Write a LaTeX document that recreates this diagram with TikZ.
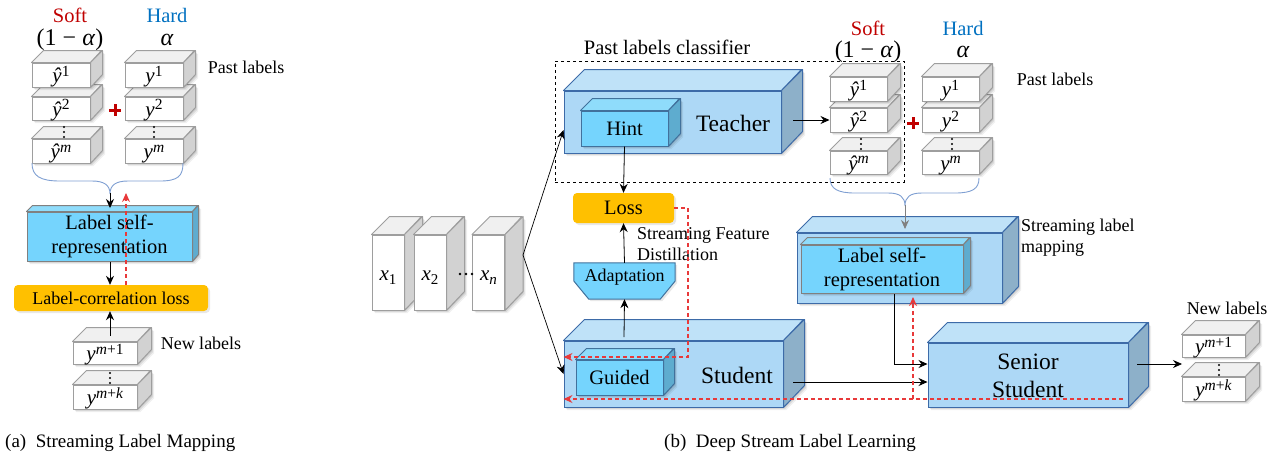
\documentclass[tikz,border=0pt]{standalone}
\usepackage{fontspec}
\setmainfont{Liberation Serif}
\usetikzlibrary{arrows.meta,calc,shadows}

% palette
\definecolor{cBigFace}{HTML}{ADD8F6}
\definecolor{cBigTop}{HTML}{BFE2F8}
\definecolor{cBigSide}{HTML}{8DB0C9}
\definecolor{cBigEdge}{HTML}{3D6BA8}
\definecolor{cInFace}{HTML}{75D4FD}
\definecolor{cInTop}{HTML}{8FDCFB}
\definecolor{cInSide}{HTML}{5EACCF}
\definecolor{cInEdge}{HTML}{41719C}
\definecolor{cGreyEdge}{HTML}{9E9E9E}
\definecolor{cGreyTop}{HTML}{F0F0F0}
\definecolor{cGreySide}{HTML}{D2D2D2}
\definecolor{cOrange}{HTML}{FFC000}
\definecolor{cSoft}{HTML}{C00000}
\definecolor{cHard}{HTML}{0070C0}
\definecolor{cBrace}{HTML}{7F9FD2}
\definecolor{cRedDash}{HTML}{E8393A}

\newcommand\fsBig{\fontsize{23.5}{28}\selectfont}
\newcommand\fsMid{\fontsize{20.5}{24}\selectfont}
\newcommand\fsSm{\fontsize{18}{21}\selectfont}
\newcommand\fsCap{\fontsize{19}{22}\selectfont}
\newcommand\fsVar{\fontsize{21}{24}\selectfont}
\newcommand\fsAlpha{\fontsize{24}{26}\selectfont}

% italic variables with raised or lowered indices
\newcommand\varup[2]{\textit{#1}\raisebox{6.5pt}{\fontsize{15.5}{16}\selectfont #2}}
\newcommand\vardown[2]{\textit{#1}\raisebox{-4pt}{\fontsize{15}{16}\selectfont #2}}

% a box drawn as a front face (the named node) plus a top face and a right face,
% with a soft shadow under it
% #1 name, #2 centre, #3 width, #4 height, #5 depth, #6 colour set, #7 text
\newcommand{\prism}[7]{%
  \begin{scope}[shift={(#2)}]
    \foreach \shoff/\shop in {3.2/0.06,2/0.09,1/0.08}
      \fill[black, opacity=\shop] ({-#3/2+\shoff},{#4/2+\shoff}) -- ({#3/2+\shoff},{#4/2+\shoff})
        -- ({#3/2+#5+\shoff},{#4/2-#5+\shoff}) -- ({#3/2+#5+\shoff},{-#4/2-#5+\shoff})
        -- ({-#3/2+#5+\shoff},{-#4/2-#5+\shoff}) -- ({-#3/2+\shoff},{-#4/2+\shoff}) -- cycle;
  \end{scope}
  \node[#6front, minimum width=#3pt, minimum height=#4pt, inner sep=0pt] (#1) at (#2) {#7};
  \path[#6top] (#1.north west) -- ++(#5,-#5) -- ++(#3,0) -- (#1.north east) -- cycle;
  \path[#6side] (#1.north east) -- ++(#5,-#5) -- ++(0,#4) -- (#1.south east) -- cycle;
}

\tikzset{
  bigfront/.style={draw=cBigEdge, fill=cBigFace, line width=1pt},
  bigtop/.style={draw=cBigEdge, fill=cBigTop, line width=1pt, line join=round},
  bigside/.style={draw=cBigEdge, fill=cBigSide, line width=1pt, line join=round},
  infront/.style={draw=cInEdge, fill=cInFace, line width=1pt, font=\fsMid},
  intop/.style={draw=cInEdge, fill=cInTop, line width=1pt, line join=round},
  inside/.style={draw=cInEdge, fill=cInSide, line width=1pt, line join=round},
  ingfront/.style={draw=gray, fill=cInFace, line width=1pt, font=\fsMid, align=center},
  ingtop/.style={draw=gray, fill=cInTop, line width=1pt, line join=round},
  ingside/.style={draw=gray, fill=cInSide, line width=1pt, line join=round},
  greyfront/.style={draw=cGreyEdge, fill=white, line width=1pt, font=\fsVar, text height=15pt, text depth=0pt},
  greytop/.style={draw=cGreyEdge, fill=cGreyTop, line width=1pt, line join=round},
  greyside/.style={draw=cGreyEdge, fill=cGreySide, line width=1pt, line join=round},
  softshadow/.style={drop shadow={opacity=0.18, shadow xshift=2pt, shadow yshift=-2pt}},
  lossbox/.style={fill=cOrange, rounded corners=4pt, inner sep=0pt, softshadow},
  txt/.style={inner sep=0pt},
  arr/.style={-{Stealth[length=9pt,width=8pt,inset=3pt]}, line width=0.8pt},
  redarr/.style={-{Stealth[length=9pt,width=8pt,inset=3pt]}, draw=cRedDash, line width=1.1pt, dash pattern=on 4pt off 3pt},
  bracepath/.style={draw=cBrace, line width=0.9pt},
  plussign/.style={draw=cSoft, line width=3pt},
  dot/.style={fill=black},
}

\begin{document}
\begin{tikzpicture}[x=1pt,y=-1pt]
\useasboundingbox (0,0) rectangle (1271,459);

% ===================== (a) streaming label mapping =====================
\node[txt, text=cSoft, font=\fsMid] (asoft) at (70,15) {Soft};
\node[txt, text=cHard, font=\fsMid] (ahard) at (167,15) {Hard};
\node[txt, font=\fsAlpha] (aw1) at (70,40) {(1 − \textit{α})};
\node[txt, font=\fsAlpha] (aw2) at (167,40) {\textit{α}};

\prism{sa3}{61,151}{58}{24}{12}{grey}{\varup{ŷ}{\textit{m}}}
\prism{sa2}{61,108.5}{58}{23}{12}{grey}{\varup{ŷ}{2}}
\prism{sa1}{61,75}{58}{24}{12}{grey}{\varup{ŷ}{1}}
\prism{ha3}{154,151}{58}{24}{12}{grey}{\varup{y}{\textit{m}}}
\prism{ha2}{154,108.5}{58}{23}{12}{grey}{\varup{y}{2}}
\prism{ha1}{154,75}{58}{24}{12}{grey}{\varup{y}{1}}
\foreach \yy in {127,132,137} {\fill[dot] (64,\yy) circle (1.2); \fill[dot] (154,\yy) circle (1.2);}
\draw[plussign] (109,110) -- (121,110) (115,104) -- (115,116);
\node[txt, font=\fsSm] (apast) at (246,67) {Past labels};

\draw[bracepath] (32,163) .. controls (32,176) and (40,181) .. (60,181) -- (92,181)
  .. controls (104,181) and (110,185) .. (110,194)
  .. controls (110,185) and (116,181) .. (128,181) -- (160,181)
  .. controls (178,181) and (183,176) .. (183,163);
\coordinate (abrace) at (110,193);

\prism{alsr}{109.5,236.5}{165}{49}{6}{ing}{Label self-\\representation}
\node[lossbox, minimum width=194pt, minimum height=26pt, font=\fsSm] (aloss) at (111,298) {Label-correlation loss};

\prism{na2}{105,397}{64}{24}{14}{grey}{\varup{y}{\textit{m}+\textit{k}}}
\prism{na1}{105,353}{64}{22}{14}{grey}{\varup{y}{\textit{m}+1}}
\foreach \yy in {373,378,383} \fill[dot] (110,\yy) circle (1.2);
\node[txt, font=\fsSm] (anew) at (201,343) {New labels};

\draw[arr] (abrace) -- (110,208);
\draw[arr] (alsr.south -| 110,0) -- (aloss.north -| 110,0);
\coordinate (anewtop) at (110,336);
\draw[arr] (anewtop) -- (aloss.south -| anewtop);
\coordinate (aredtop) at (126,193);
\draw[redarr] (aloss.north -| aredtop) -- (aredtop);

% ===================== (b) deep stream label learning =====================
% input samples
\prism{x1}{388,272.5}{32}{75}{18}{grey}{\vardown{x}{1}}
\prism{x2}{430,272.5}{32}{75}{18}{grey}{\vardown{x}{2}}
\prism{xn}{488.5,272.5}{32}{75}{18}{grey}{\vardown{x}{\textit{n}}}
\foreach \xx in {460,466,472} \fill[dot] (\xx,274) circle (1.4);
\coordinate (xsplit) at (523,255);

% past labels classifier
\node[draw, dashed, line width=0.9pt, minimum width=349pt, minimum height=121pt, inner sep=0pt] (plc) at (729.5,121.5) {};
\node[txt, font=\fsMid] (plclab) at (667,47) {Past labels classifier};

\prism{teacher}{672.5,122}{217}{62}{21}{big}{}
\node[txt, font=\fsBig] (teachlab) at (733,123) {Teacher};
\prism{hint}{624.5,128.5}{87}{35}{12}{in}{Hint}

\node[lossbox, minimum width=101pt, minimum height=30pt, font=\fsMid] (bloss) at (623.5,208) {Loss};
\node[txt, font=\fsSm, align=left, anchor=west] (sfd) at (637,244) {Streaming Feature\\Distillation};

\node[txt, minimum width=101pt, minimum height=36pt, font=\fsSm] (adapt) at (624.5,281) {};
\path[draw=cInEdge, fill=cInFace, line width=1pt, softshadow]
  (adapt.north west) -- (adapt.north east) -- (adapt.east) -- ($(adapt.south east)+(-15,0)$)
  -- ($(adapt.south west)+(15,0)$) -- (adapt.west) -- cycle;
\node[txt, font=\fsSm] (adaptlab) at (624.5,277) {Adaptation};

\prism{student}{673.5,374}{219}{66}{21}{big}{}
\node[txt, font=\fsBig] (studlab) at (737,375) {Student};
\prism{guided}{619.5,377.5}{87}{35}{11}{in}{Guided}

% soft and hard past labels
\node[txt, text=cSoft, font=\fsMid] (bsoft) at (868,28) {Soft};
\node[txt, text=cHard, font=\fsMid] (bhard) at (963,28) {Hard};
\node[txt, font=\fsAlpha] (bw1) at (868,52) {(1 − \textit{α})};
\node[txt, font=\fsAlpha] (bw2) at (963,52) {\textit{α}};
\prism{sb3}{858.5,162.5}{57}{23}{13}{grey}{\varup{ŷ}{\textit{m}}}
\prism{sb2}{858.5,120}{57}{24}{13}{grey}{\varup{ŷ}{2}}
\prism{sb1}{858.5,89}{57}{24}{13}{grey}{\varup{ŷ}{1}}
\prism{hb3}{950.5,162.5}{57}{23}{13}{grey}{\varup{y}{\textit{m}}}
\prism{hb2}{950.5,120}{57}{24}{13}{grey}{\varup{y}{2}}
\prism{hb1}{950.5,89}{57}{24}{13}{grey}{\varup{y}{1}}
\foreach \yy in {139,144,149} {\fill[dot] (861,\yy) circle (1.2); \fill[dot] (952,\yy) circle (1.2);}
\draw[plussign] (907,123) -- (919,123) (913,117) -- (913,129);
\node[txt, font=\fsSm] (bpast) at (1055,79) {Past labels};

\draw[bracepath] (830,178) .. controls (830,189) and (838,193) .. (855,193) -- (888,193)
  .. controls (900,193) and (905,197) .. (905,206)
  .. controls (905,197) and (910,193) .. (922,193) -- (955,193)
  .. controls (972,193) and (979,189) .. (979,178);
\coordinate (bbrace) at (905,205);

% streaming label mapping
\prism{slm}{899.5,268}{205}{70}{16}{big}{}
\prism{blsr}{882,269}{162}{48}{7}{ing}{Label self-\\representation}
\node[txt, font=\fsSm, align=left, anchor=west] (slmlab) at (1021,238) {Streaming label\\mapping};

% senior student and new labels
\prism{senior}{1028,375}{200}{64}{20}{big}{}
\node[txt, font=\fsBig, align=center] (seniorlab) at (1028,376) {Senior\\Student};
\prism{nb2}{1213.5,389}{63}{24}{14}{grey}{\varup{y}{\textit{m}+\textit{k}}}
\prism{nb1}{1213.5,346}{63}{22}{14}{grey}{\varup{y}{\textit{m}+1}}
\foreach \yy in {365,370,375} \fill[dot] (1219,\yy) circle (1.2);
\node[txt, font=\fsSm] (bnew) at (1227,308) {New labels};
\coordinate (newin) at (1182,364);

% connectors
\draw[arr, line width=0.7pt] (xsplit) -- ($(teacher.west)+(0,8)$);
\draw[arr, line width=0.7pt] (xsplit) -- (student.west);
\coordinate (tout) at (793,120);
\draw[arr] (tout) -- (sb2.west);
\draw[arr] (hint.south) -- (bloss.north);
\draw[arr] (adapt.north) -- (bloss.south);
\coordinate (stop) at (624,337);
\draw[arr] (stop) -- (adapt.south);
\draw[arr, draw=gray] (bbrace) -- (905,229);
\coordinate (sout) at (793,382);
\draw[arr] (sout) -- (sout -| senior.west);
\draw[arr] (894,294) -- (894,364) -- (senior.west |- 0,364);
\coordinate (senout) at (1137,364);
\draw[arr] (senout) -- (newin);

% feedback paths
\draw[redarr] (bloss.east) -- (688,208) -- (688,357) -- (student.west |- 0,357);
\coordinate (fbright) at (1123,399);
\draw[redarr] (fbright) -- (student.west |- fbright);
\draw[redarr] (913,399) -- (913,297);

% captions
\node[txt, font=\fsCap, anchor=west] (capa) at (5,443) {(a)\ \ Streaming Label Mapping};
\node[txt, font=\fsCap, anchor=west] (capb) at (664,443) {(b)\ \ Deep Stream Label Learning};
\end{tikzpicture}
\end{document}
